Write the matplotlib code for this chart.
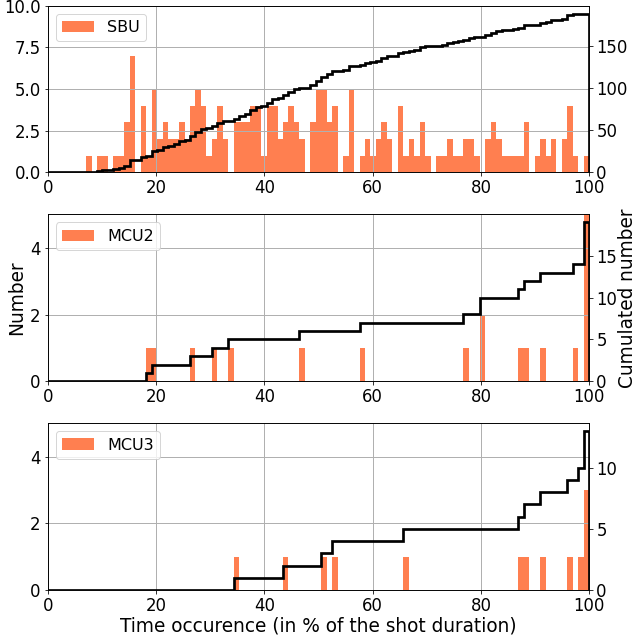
import numpy as np
import matplotlib
matplotlib.use("Agg")
import matplotlib.pyplot as plt

# bins: 100 bins of width 1.01 from -1 to 100 (% of shot duration)
edges = np.linspace(-1, 100, 101)

# (bin index, count)
sbu_bins = [8, 10, 11, 13, 14, 15, 16, 18, 19, 20, 21, 22, 23, 24, 25, 26, 27,
            28, 29, 30, 31, 32, 33, 35, 36, 37, 38, 39, 40, 41, 42, 43, 44, 45,
            46, 47, 49, 50, 51, 52, 53, 55, 56, 58, 59, 60, 61, 62, 63, 65, 66,
            67, 68, 69, 70, 72, 73, 74, 75, 76, 77, 78, 79, 81, 82, 83, 84, 85,
            86, 87, 88, 90, 91, 92, 93, 95, 96, 97, 99]
sbu_counts = [1, 1, 1, 1, 1, 3, 7, 4, 1, 5, 2, 3, 2, 2, 3, 2, 4,
              5, 4, 1, 2, 4, 2, 3, 3, 3, 4, 4, 1, 4, 4, 2, 3, 4,
              3, 2, 3, 5, 5, 3, 4, 1, 5, 1, 2, 1, 2, 3, 2, 4, 1,
              2, 1, 3, 1, 1, 1, 2, 1, 1, 2, 2, 1, 2, 3, 2, 1, 1,
              1, 1, 3, 1, 2, 1, 2, 2, 4, 1, 1]

mcu2_bins = [19, 20, 27, 31, 34, 47, 58, 77, 80, 87, 88, 91, 97, 99]
mcu2_counts = [1, 1, 1, 1, 1, 1, 1, 1, 2, 1, 1, 1, 1, 5]

mcu3_bins = [35, 44, 51, 53, 66, 87, 88, 91, 96, 98, 99]
mcu3_counts = [1, 1, 1, 1, 1, 1, 1, 1, 1, 1, 3]

series = [("SBU", sbu_bins, sbu_counts, [0, 2.5, 5, 7.5, 10], 10, [0, 50, 100, 150]),
          ("MCU2", mcu2_bins, mcu2_counts, [0, 2, 4], 5, [0, 5, 10, 15]),
          ("MCU3", mcu3_bins, mcu3_counts, [0, 2, 4], 5, [0, 5, 10])]

fig, axes = plt.subplots(3, 1, figsize=(637 / 72, 639 / 72), dpi=72)
fig.subplots_adjust(left=0.0749, right=0.9251, top=0.9911, bottom=0.0767, hspace=0.2515)

for ax, (name, bins, counts, lticks, ltop, rticks) in zip(axes, series):
    full = np.zeros(100)
    full[bins] = counts
    ax.hist(edges[:-1], bins=edges, weights=full, color="coral", label=name)
    ax.set_xlim(0, 100)
    ax.set_ylim(0, ltop)
    ax.set_yticks(lticks)
    ax.grid(True, lw=1.0)
    ax.legend(loc="upper left", fontsize=16)
    ax.tick_params(labelsize=16.5)

    ax2 = ax.twinx()
    ax2.hist(edges[:-1], bins=edges, weights=full, cumulative=True,
             histtype="step", color="k", lw=2.7)
    ax2.set_yticks(rticks)
    ax2.tick_params(labelsize=16.5)
    ax.set_xlim(0, 100)
    if name == "MCU2":
        ax.set_ylabel("Number", fontsize=18.5)
        ax2.set_ylabel("Cumulated number", fontsize=18.5, labelpad=1)

axes[-1].set_xlabel("Time occurence (in % of the shot duration)", fontsize=18.5,
                    labelpad=2)

plt.savefig("out.png", dpi=72)
plt.close()
